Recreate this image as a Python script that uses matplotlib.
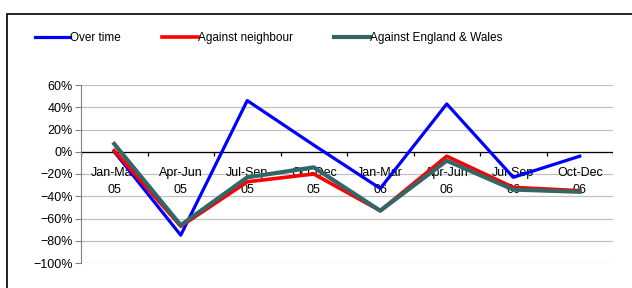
import numpy as np
import matplotlib.pyplot as plt
from matplotlib.patches import Rectangle
from matplotlib.ticker import PercentFormatter

plt.rcParams['font.family'] = ['Liberation Sans', 'DejaVu Sans']
plt.rcParams['font.size'] = 9

quarters = ['Jan-Mar\n05', 'Apr-Jun\n05', 'Jul-Sep\n05', 'Oct-Dec\n05',
            'Jan-Mar\n06', 'Apr-Jun\n06', 'Jul-Sep\n06', 'Oct-Dec\n06']
over_time = [0, -75, 46, 6, -33, 43, -23, -4]
against_neighbour = [1, -67, -27, -20, -53, -4, -32, -35]
against_ew = [7, -66, -23, -14, -53, -8, -34, -36]

fig = plt.figure(figsize=(6.32, 2.88), dpi=100)
ax = fig.add_axes([81/632, 1 - 263/288, 532/632, 178/288])

x = np.arange(len(quarters))
ax.plot(x, over_time, color='#0000ff', lw=2.3, label='Over time', zorder=3)
ax.plot(x, against_neighbour, color='#ff0000', lw=2.6, label='Against neighbour', zorder=4)
ax.plot(x, against_ew, color='#336666', lw=3.0, label='Against England & Wales', zorder=5)

ax.set_xlim(-0.5, len(quarters) - 0.5)
ax.set_ylim(-100, 60)
ax.set_yticks(np.arange(-100, 61, 20))
ax.yaxis.set_major_formatter(PercentFormatter(decimals=0))
ax.grid(axis='y', color='#c0c0c0', lw=0.9)
ax.set_axisbelow(True)

for s in ['top', 'right', 'bottom']:
    ax.spines[s].set_visible(False)
ax.spines['left'].set_color('#808080')
ax.tick_params(axis='y', length=4, color='#808080', pad=2)

# x axis sits at zero, ticks at the category boundaries
ax.axhline(0, color='black', lw=0.9, zorder=2)
bounds = np.arange(-0.5, len(quarters), 1.0)
ax.vlines(bounds, -4, 0, color='black', lw=0.9, zorder=2)
ax.set_xticks(x)
ax.set_xticklabels([])
ax.tick_params(axis='x', length=0)
for xi, lab in zip(x, quarters):
    ax.text(xi, -27, lab, ha='center', va='center', linespacing=1.6, zorder=1)

fig.legend(loc='center left', bbox_to_anchor=(35/632, 1 - 38/288), ncol=3,
           frameon=False, handlelength=3.0, handletextpad=0.0,
           columnspacing=3.5, borderpad=0, borderaxespad=0, fontsize=8.5)

fig.patches.append(Rectangle((7/632, -0.1), 1.2, (1 - 14/288) + 0.1,
                             transform=fig.transFigure, fill=False,
                             edgecolor='black', lw=1.2))

fig.savefig('out.png', dpi=100)
